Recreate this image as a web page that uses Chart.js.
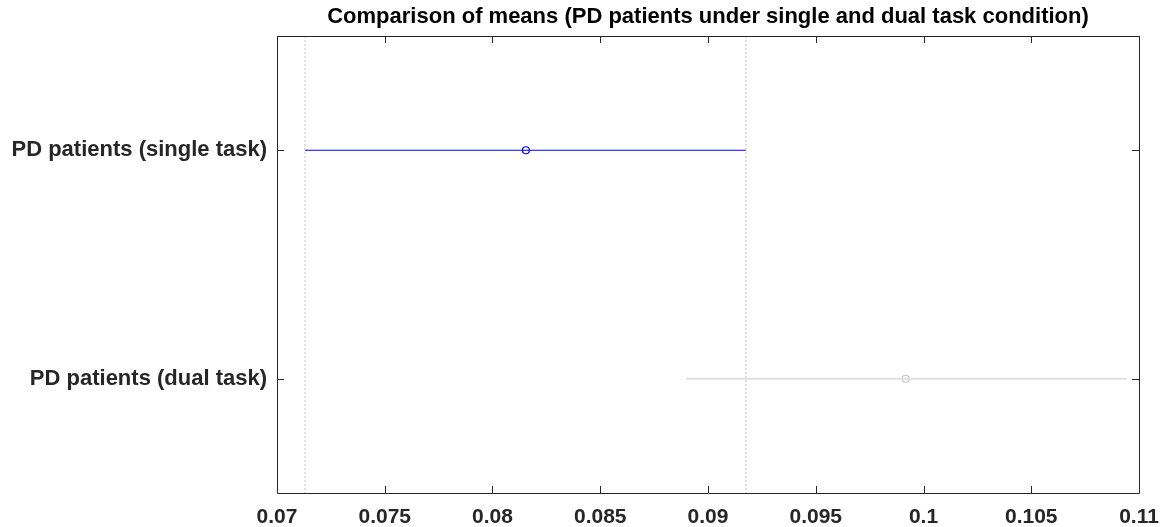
<!DOCTYPE html>
<html>
<head>
<meta charset="utf-8">
<script src="https://cdn.jsdelivr.net/npm/chart.js@4.4.0/dist/chart.umd.min.js"></script>
<style>
  html, body { margin: 0; padding: 0; background: #fff; }
</style>
</head>
<body>
<canvas id="chart" width="1164" height="527"></canvas>
<script>
var groups = ['PD patients (single task)', 'PD patients (dual task)'];
var groupPos = [1, 2];
var means = [0.08155, 0.09917];
var lower = [0.0713, 0.08898];
var upper = [0.09176, 0.10943];
var xTicks = [0.07, 0.075, 0.08, 0.085, 0.09, 0.095, 0.1, 0.105, 0.11];
var titleText = 'Comparison of means (PD patients under single and dual task condition)';
var lineColors = ['#0000ff', '#e0e0e0'];
var markerColors = ['#0000ff', '#c4c4c4'];

var datasets = [];
// dotted limits of the selected group
[lower[0], upper[0]].forEach(function(v) {
    datasets.push({
        data: [{x: v, y: 0.5}, {x: v, y: 2.5}],
        showLine: true,
        borderColor: '#c0c0c0',
        borderWidth: 1,
        borderDash: [2, 2],
        pointRadius: 0
    });
});
groups.forEach(function(g, i) {
    datasets.push({
        data: [{x: lower[i], y: groupPos[i]}, {x: upper[i], y: groupPos[i]}],
        showLine: true,
        borderColor: lineColors[i],
        borderWidth: i === 0 ? 1.2 : 2,
        pointRadius: 0
    });
    datasets.push({
        data: [{x: means[i], y: groupPos[i]}],
        showLine: false,
        pointStyle: 'circle',
        pointRadius: 3.5,
        pointBorderWidth: 1.2,
        pointBorderColor: markerColors[i],
        pointBackgroundColor: '#ffffff'
    });
});

var boxTicks = {
    id: 'boxTicks',
    afterDatasetsDraw: function(chart) {
        var ctx = chart.ctx, a = chart.chartArea;
        var xs = chart.scales.x, ys = chart.scales.y;
        var len = 7;
        ctx.save();
        ctx.strokeStyle = '#262626';
        ctx.lineWidth = 1;
        ctx.beginPath();
        ctx.rect(Math.round(a.left) + 0.5, Math.round(a.top) + 0.5,
            Math.round(a.right - a.left), Math.round(a.bottom - a.top));
        xTicks.forEach(function(t) {
            var px = Math.round(xs.getPixelForValue(t)) + 0.5;
            ctx.moveTo(px, a.bottom);
            ctx.lineTo(px, a.bottom - len);
            ctx.moveTo(px, a.top);
            ctx.lineTo(px, a.top + len);
        });
        groupPos.forEach(function(p) {
            var py = Math.round(ys.getPixelForValue(p)) + 0.5;
            ctx.moveTo(a.left, py);
            ctx.lineTo(a.left + len, py);
            ctx.moveTo(a.right, py);
            ctx.lineTo(a.right - len, py);
        });
        ctx.stroke();
        ctx.restore();
    }
};

var ctx = document.getElementById('chart').getContext('2d');
new Chart(ctx, {
    type: 'scatter',
    data: { datasets: datasets },
    plugins: [boxTicks],
    options: {
        responsive: false,
        animation: false,
        devicePixelRatio: 1,
        layout: { padding: { left: 0, right: 25, top: 0, bottom: 0 } },
        plugins: {
            legend: { display: false },
            tooltip: { enabled: false },
            title: { display: false }
        },
        scales: {
            x: {
                type: 'linear',
                min: 0.07,
                max: 0.11,
                afterBuildTicks: function(scale) {
                    scale.ticks = xTicks.map(function(v) { return {value: v}; });
                },
                afterFit: function(scale) {
                    scale.height = 34;
                    scale.paddingLeft = 0;
                    scale.paddingRight = 0;
                },
                grid: { display: false, drawTicks: false },
                border: { display: false },
                ticks: {
                    color: '#262626',
                    padding: 12,
                    maxRotation: 0,
                    autoSkip: false,
                    font: { family: 'Liberation Sans', size: 21, weight: 'bold' },
                    callback: function(v) { return String(Number(v.toFixed(3))); }
                }
            },
            // top axis only carries the title, centred over the plot box
            xTop: {
                type: 'linear',
                position: 'top',
                min: 0.07,
                max: 0.11,
                afterFit: function(scale) {
                    scale.height = 36;
                    scale.paddingLeft = 0;
                    scale.paddingRight = 0;
                },
                grid: { display: false, drawTicks: false },
                border: { display: false },
                ticks: { display: false },
                title: {
                    display: true,
                    text: titleText,
                    color: '#000000',
                    font: { family: 'Liberation Sans', size: 22, weight: 'bold' },
                    padding: { top: 4, bottom: 0 }
                }
            },
            y: {
                type: 'linear',
                min: 0.5,
                max: 2.5,
                reverse: true,
                afterBuildTicks: function(scale) {
                    scale.ticks = groupPos.map(function(v) { return {value: v}; });
                },
                afterFit: function(scale) {
                    scale.width = 277;
                    scale.paddingTop = 0;
                    scale.paddingBottom = 0;
                },
                grid: { display: false, drawTicks: false },
                border: { display: false },
                ticks: {
                    color: '#262626',
                    padding: 10,
                    font: { family: 'Liberation Sans', size: 22, weight: 'bold' },
                    callback: function(v) {
                        var i = groupPos.indexOf(v);
                        return i >= 0 ? groups[i] : '';
                    }
                }
            }
        }
    }
});
</script>
</body>
</html>
